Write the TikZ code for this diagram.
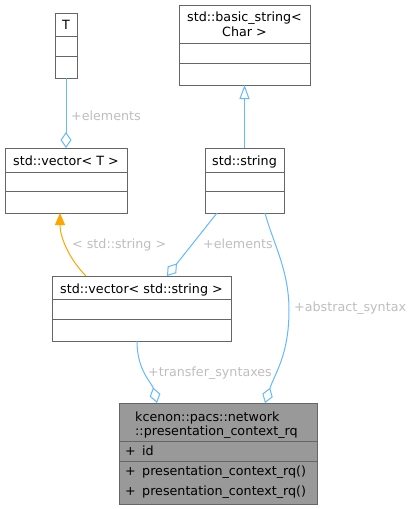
\documentclass[tikz,border=0pt]{standalone}
\usepackage{fontspec}
\setmainfont{DejaVu Sans}
\usetikzlibrary{arrows.meta}
\definecolor{boxline}{HTML}{666666}
\definecolor{mainfill}{HTML}{999999}
\definecolor{edgeblue}{HTML}{63B8FF}
\definecolor{edgeorange}{HTML}{FFA500}
\definecolor{labelgray}{HTML}{BEBEBE}
\begin{document}
\begin{tikzpicture}[x=1pt,y=-1pt,
  cls/.style={rectangle, draw=boxline, line width=1pt, fill=white, anchor=north west, inner sep=0pt, outer sep=0pt},
  mcls/.style={cls, fill=mainfill},
  divider/.style={draw=boxline, line width=1pt},
  ttl/.style={inner sep=0pt, anchor=base, font=\fontsize{12.7}{14.5}\selectfont},
  ttlw/.style={inner sep=0pt, anchor=base west, font=\fontsize{12.7}{14.5}\selectfont},
  lbl/.style={inner sep=0pt, anchor=base west, text=labelgray, font=\fontsize{12.7}{14.5}\selectfont},
  member/.style={draw=edgeblue, line width=1pt, -{Diamond[open, length=16pt, width=11pt]}},
  inherit/.style={draw=edgeblue, line width=1pt, -{Triangle[open, length=14pt, width=10pt]}},
  tmpl/.style={draw=edgeorange, line width=1pt, -{Triangle[fill=edgeorange, length=12pt, width=10pt]}},
]
\useasboundingbox (0,0) rectangle (414,509);

% T
\node[cls, minimum width=22pt, minimum height=65pt] (T) at (55,13) {};
\draw[divider] (55,36) -- (77,36);
\draw[divider] (55,56) -- (77,56);
\node[ttl] (Tt) at (66,29.3) {T};

% std::basic_string< Char >
\node[cls, minimum width=131pt, minimum height=80pt] (bstr) at (179,5) {};
\draw[divider] (179,43) -- (310,43);
\draw[divider] (179,63) -- (310,63);
\node[ttl] (bstrt1) at (244.5,21.5) {std::basic\_string<};
\node[ttl] (bstrt2) at (244.5,36) {Char >};

% std::vector< T >
\node[cls, minimum width=122pt, minimum height=65pt] (vecT) at (5,148) {};
\draw[divider] (5,172) -- (127,172);
\draw[divider] (5,191) -- (127,191);
\node[ttl] (vecTt) at (66,165.5) {std::vector< T >};

% std::string
\node[cls, minimum width=79pt, minimum height=65pt] (str) at (205,148) {};
\draw[divider] (205,172) -- (284,172);
\draw[divider] (205,191) -- (284,191);
\node[ttl] (strt) at (244.5,165.5) {std::string};

% std::vector< std::string >
\node[cls, minimum width=179pt, minimum height=65pt] (vecstr) at (52,276) {};
\draw[divider] (52,299) -- (231,299);
\draw[divider] (52,319) -- (231,319);
\node[ttl] (vecstrt) at (141.5,293) {std::vector< std::string >};

% main class
\node[mcls, minimum width=198pt, minimum height=101pt] (main) at (119,403) {};
\draw[divider] (119,441) -- (317,441);
\draw[divider] (119,461) -- (317,461);
\node[ttlw] (maint1) at (135,421) {kcenon::pacs::network};
\node[ttlw] (maint2) at (135,435.5) {::presentation\_context\_rq};
\node[ttlw] (m1p) at (125,455) {+};
\node[ttlw] (m1) at (142,455) {id};
\node[ttlw] (m2p) at (125,475) {+};
\node[ttlw] (m2) at (142,475) {presentation\_context\_rq()};
\node[ttlw] (m3p) at (125,495) {+};
\node[ttlw] (m3) at (142,495) {presentation\_context\_rq()};

% edges
\draw[member] (T.south) -- (vecT.north);
\node[lbl] (l1) at (71,120) {+elements};

\draw[inherit] (str.north) -- (bstr.south);

\draw[tmpl] ([xshift=-55.5pt]vecstr.north) .. controls +(-16,-16) and +(0,25) .. ([xshift=-6pt]vecT.south);
\node[lbl] (l2) at (72,248) {< std::string >};

\draw[member] ([xshift=-27.5pt]str.south) -- ([xshift=25.5pt]vecstr.north);
\node[lbl] (l3) at (203,248) {+elements};

\draw[member] ([xshift=-4.5pt]vecstr.south) .. controls +(0,30) and +(-5,-20) .. ([xshift=-61pt]main.north);
\node[lbl] (l4) at (148,376) {+transfer\_syntaxes};

\coordinate (absmid) at (289,310);
\draw[member] ([xshift=20.5pt]str.south) .. controls +(8,30) and +(0,-40) .. (absmid) .. controls +(0,45) and +(10,-30) .. ([xshift=47pt]main.north);
\node[lbl] (l5) at (294,311.5) {+abstract\_syntax};
\end{tikzpicture}
\end{document}
